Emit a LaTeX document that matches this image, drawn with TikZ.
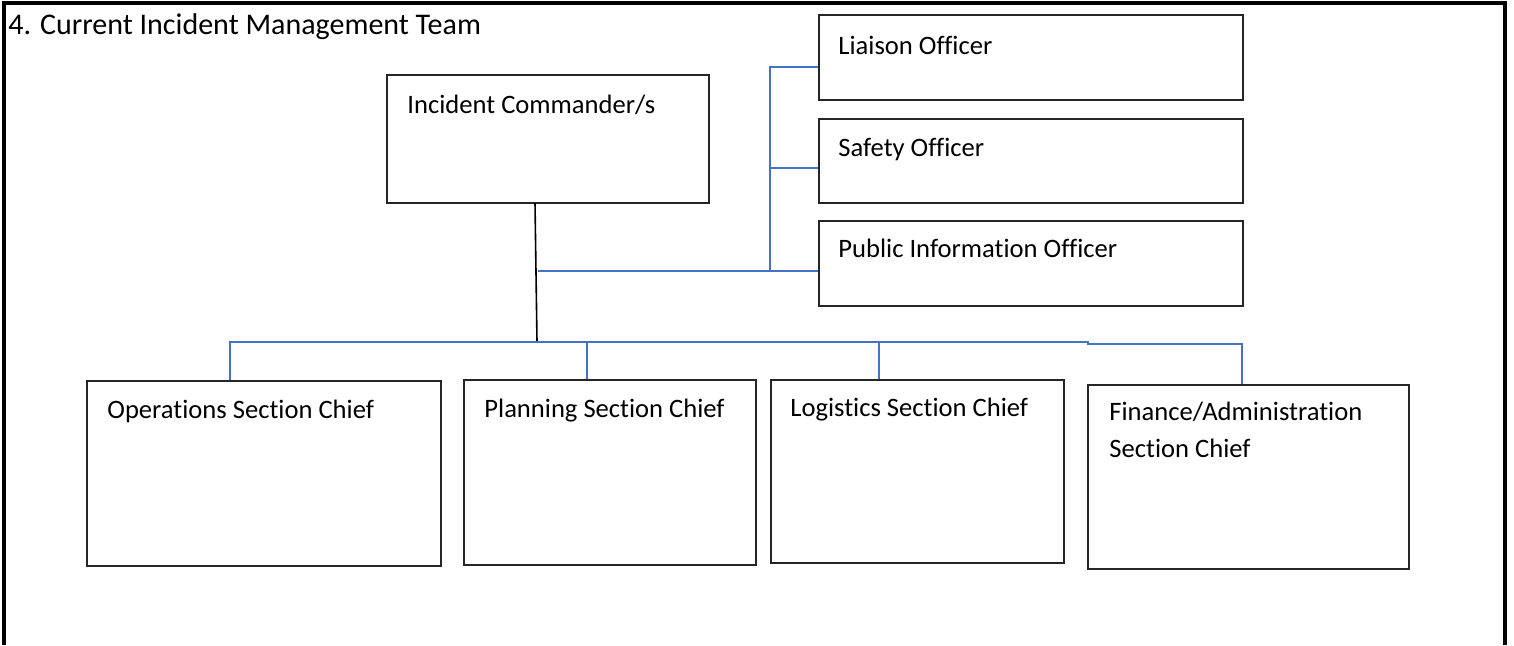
\documentclass[tikz,border=0pt]{standalone}
\usepackage{fontspec}
\setmainfont{Carlito}[Ligatures=CommonOff]
\usetikzlibrary{fit}
\definecolor{offblue}{RGB}{68,114,196}
\begin{document}
\begin{tikzpicture}[x=0.5pt,y=-0.5pt,
  box/.style={draw=black!85, line width=0.8pt, inner sep=0pt},
  txt/.style={anchor=base west, inner sep=0pt, font=\fontsize{13.3pt}{18.5pt}\selectfont},
  bl/.style={draw=offblue, line width=1pt},
  blk/.style={draw=black, line width=0.8pt},
  frame/.style={draw=black, line width=1.6pt}]
\useasboundingbox (0,0) rectangle (1514,645);
% frame
\coordinate (fbl) at (4,645); \coordinate (ftl) at (4,3);
\coordinate (ftr) at (1505,3); \coordinate (fbr) at (1505,645);
\draw[frame] (fbl) -- (ftl) -- (ftr) -- (fbr);
\node[txt, font=\fontsize{15pt}{18pt}\selectfont] (title) at (8,34) {4.\hspace{0.3em}Current Incident Management Team};
% boxes
\node[box, fit={(387,75) (709,203)}] (ic) {};
\node[txt] (ict) at (407,113) {Incident Commander/s};
\node[box, fit={(819,15) (1243,100)}] (lo) {};
\node[txt] (lot) at (838,54) {Liaison Officer};
\node[box, fit={(819,119) (1243,203)}] (so) {};
\node[txt] (sot) at (838,156) {Safety Officer};
\node[box, fit={(819,221) (1243,306)}] (pio) {};
\node[txt] (piot) at (838,257) {Public Information Officer};
\node[box, fit={(87,381) (441,566)}] (ops) {};
\node[txt] (opst) at (107,418) {Operations Section Chief};
\node[box, fit={(464,380) (756,565)}] (pl) {};
\node[txt] (plt) at (484,417) {Planning Section Chief};
\node[box, fit={(771,380) (1064,563)}] (lg) {};
\node[txt] (lgt) at (790,416) {Logistics Section Chief};
\node[box, fit={(1088,385) (1409,569)}] (fa) {};
\node[txt] (fat) at (1109,420) {Finance/Administration};
\node[txt] (fat2) at (1109,457) {Section Chief};
% connectors
\coordinate (icb) at (535,203);
\coordinate (bus) at (537,342);
\coordinate (j1) at (538,271);
\coordinate (v) at (770,271);
\coordinate (vt) at (770,67);
\coordinate (vm) at (770,168);
\draw[blk] (icb) -- (bus);
\draw[bl] (j1) -- (j1 -| pio.west);
\draw[bl] (v) -- (vt) -- (vt -| lo.west);
\draw[bl] (vm) -- (vm -| so.west);
\coordinate (b1) at (230,342);
\coordinate (b2) at (587,342);
\coordinate (b3) at (879,342);
\coordinate (b4) at (1088,342);
\coordinate (b5) at (1088,344);
\coordinate (b6) at (1242,344);
\draw[bl] (b1 |- ops.north) -- (b1) -- (b4) -- (b5) -- (b6) -- (b6 |- fa.north);
\draw[bl] (b2) -- (b2 |- pl.north);
\draw[bl] (b3) -- (b3 |- lg.north);
\end{tikzpicture}
\end{document}
